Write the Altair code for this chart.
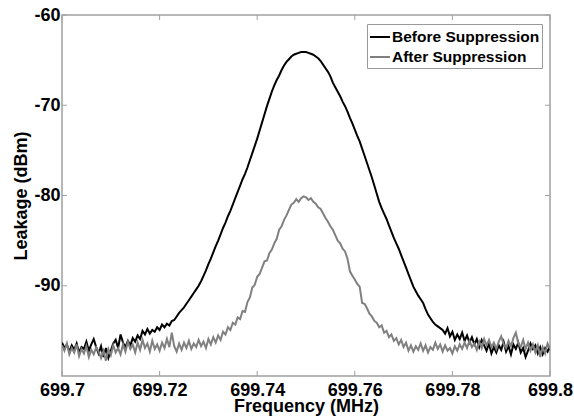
import altair as alt
import pandas as pd

# Frequency grid (MHz), 0.0005 MHz step from 699.7 to 699.8
freq = [round(699.7 + i * 0.0005, 4) for i in range(201)]

before = [
    -96.3, -96.9, -96.5, -97.3, -96.6, -97.1, -96.4, -97.4, -96.8, -97.0,
    -96.2, -97.2, -96.5, -95.9, -96.8, -97.5, -96.7, -97.9, -96.9, -98.0,
    -97.2, -96.4, -96.0, -96.9, -95.4, -96.3, -96.8, -96.1, -96.6, -95.8,
    -96.2, -95.5, -95.9, -95.0, -95.4, -94.8, -95.3, -94.9, -95.1, -94.6,
    -94.9, -94.3, -94.6, -94.2, -94.4, -93.9, -93.8, -93.4, -93.0, -92.7,
    -92.4, -92.0, -91.6, -91.2, -90.8, -90.4, -90.0, -89.5, -88.9, -88.3,
    -87.6, -87.0, -86.3, -85.6, -85.0, -84.3, -83.6, -83.0, -82.3, -81.7,
    -81.0, -80.3, -79.6, -78.9, -78.2, -77.6, -76.9, -76.1, -75.3, -74.5,
    -73.7, -72.8, -71.9, -71.0, -70.1, -69.3, -68.5, -67.8, -67.2, -66.7,
    -66.1, -65.6, -65.2, -64.9, -64.6, -64.4, -64.3, -64.2, -64.1, -64.1,
    -64.1, -64.2, -64.3, -64.4, -64.6, -64.8, -65.1, -65.5, -65.9, -66.3,
    -66.8, -67.5, -68.0, -68.5, -69.0, -69.6, -70.1, -70.7, -71.4, -72.0,
    -72.7, -73.4, -74.0, -74.8, -75.6, -76.4, -77.2, -78.0, -78.9, -79.8,
    -80.7, -81.4, -82.0, -82.6, -83.3, -84.0, -84.7, -85.3, -85.9, -86.6,
    -87.3, -88.0, -88.7, -89.4, -90.1, -90.6, -91.1, -91.5, -91.9, -92.6,
    -93.2, -93.6, -94.0, -94.3, -94.5, -94.7, -94.9, -95.3, -94.7, -95.6,
    -95.1, -96.0, -95.4, -95.9, -95.2, -96.1, -95.5, -96.3, -95.7, -96.5,
    -95.9, -96.8, -96.0, -96.6, -97.2, -96.4, -97.5, -96.8, -97.4, -96.6,
    -97.1, -96.2, -97.3, -96.7, -97.6, -96.5, -97.0, -96.3, -97.4, -96.9,
    -97.9, -97.2, -96.4, -97.0, -96.6, -97.5, -96.8, -97.6, -96.9, -97.3,
    -96.7,
]

after = [
    -96.6, -97.2, -96.4, -97.6, -96.9, -97.4, -96.5, -97.8, -97.0, -97.5,
    -96.7, -97.9, -97.1, -97.6, -96.8, -97.3, -98.0, -97.2, -98.3, -97.0,
    -97.7, -96.6, -97.4, -96.9, -97.6, -96.5, -97.3, -96.2, -97.0, -96.5,
    -97.4, -96.3, -97.1, -96.0, -96.9, -96.4, -97.3, -96.1, -97.0, -96.5,
    -97.2, -96.3, -96.9, -95.9, -96.8, -95.2, -96.7, -97.3, -96.4, -97.1,
    -96.3, -96.9, -96.1, -97.0, -96.4, -96.8, -96.0, -96.7, -96.2, -96.9,
    -95.9, -96.5, -95.7, -96.3, -95.5, -96.0, -95.1, -95.4, -94.6, -94.9,
    -94.1, -94.3, -93.5, -93.7, -92.8, -92.9, -91.8, -91.3, -90.2, -89.9,
    -89.0, -88.7, -88.0, -87.3, -87.2, -86.4, -86.0, -85.3, -84.8, -83.8,
    -83.4, -82.7, -82.2, -81.6, -81.0, -80.8, -80.4, -80.7, -80.3, -80.1,
    -80.2, -80.5, -80.3, -80.7, -80.9, -81.3, -81.5, -82.0, -82.5, -82.9,
    -83.4, -83.8, -84.4, -85.0, -85.3, -85.9, -86.2, -87.0, -88.4, -88.9,
    -89.3, -89.8, -90.1, -91.9, -92.0, -92.5, -93.1, -93.4, -93.9, -94.1,
    -94.6, -94.4, -95.2, -95.0, -95.7, -95.4, -96.1, -95.8, -96.5, -96.0,
    -96.8, -96.3, -97.2, -96.6, -97.3, -96.7, -97.1, -96.4, -97.2, -96.6,
    -97.4, -96.8, -97.1, -96.3, -97.0, -96.5, -97.3, -96.6, -97.2, -96.9,
    -97.5, -96.7, -97.2, -96.5, -97.0, -96.3, -96.9, -96.1, -96.8, -96.4,
    -97.1, -96.2, -96.9, -95.9, -96.6, -96.0, -96.8, -96.3, -97.0, -96.2,
    -95.6, -96.5, -96.9, -96.1, -96.7, -95.8, -95.2, -96.4, -96.8, -96.0,
    -97.0, -96.3, -97.2, -96.5, -97.4, -96.6, -97.9, -96.8, -97.5, -96.4,
    -97.0,
]

series_names = ["Before Suppression", "After Suppression"]
series_colors = ["#000000", "#808080"]
x_ticks = [699.7, 699.72, 699.74, 699.76, 699.78, 699.8]
y_ticks = [-90, -80, -70, -60]
x_domain = [699.7, 699.8]
y_domain = [-100, -60]

rows = []
for f, v in zip(freq, before):
    rows.append({"freq": f, "dbm": v, "series": series_names[0]})
for f, v in zip(freq, after):
    rows.append({"freq": f, "dbm": v, "series": series_names[1]})
df = pd.DataFrame(rows)

W, H = 488, 361
FONT = "Liberation Sans"
FRAME = "#a0a0a0"

xscale = alt.Scale(domain=x_domain, nice=False, zero=False)
yscale = alt.Scale(domain=y_domain, nice=False, zero=False)

lines = alt.Chart(df).mark_line(strokeWidth=2, clip=True).encode(
    x=alt.X("freq:Q", scale=xscale,
            axis=alt.Axis(values=x_ticks, labelExpr="'' + datum.value",
                          title="Frequency (MHz)",
                          ticks=False, domain=False, grid=False,
                          labelFont=FONT, labelFontSize=18, labelFontWeight="bold",
                          labelColor="#000", labelPadding=5, labelFlush=False,
                          titleFont=FONT, titleFontSize=18, titleFontWeight="bold",
                          titleColor="#000", titlePadding=-2)),
    y=alt.Y("dbm:Q", scale=yscale,
            axis=alt.Axis(values=y_ticks, labelExpr="'' + datum.value",
                          title="Leakage (dBm)",
                          ticks=False, domain=False, grid=False,
                          labelFont=FONT, labelFontSize=18, labelFontWeight="bold",
                          labelColor="#000", labelPadding=2, labelFlush=False,
                          titleFont=FONT, titleFontSize=18, titleFontWeight="bold",
                          titleColor="#000", titlePadding=3)),
    color=alt.Color("series:N",
                    scale=alt.Scale(domain=series_names, range=series_colors),
                    legend=alt.Legend(title=None, orient="none", legendX=305, legendY=9,
                                      symbolType="stroke", symbolSize=400,
                                      symbolStrokeWidth=2, labelOffset=1,
                                      labelFont=FONT, labelFontSize=15.5,
                                      labelFontWeight="bold", labelColor="#000",
                                      strokeColor="#999999", fillColor="#ffffff",
                                      padding=2, rowPadding=0)),
    order=alt.Order("series_order:Q"),
).transform_calculate(
    series_order="datum.series == 'Before Suppression' ? 0 : 1"
)

xt = pd.DataFrame({"t": x_ticks})
yt = pd.DataFrame({"t": y_ticks})

bottom_ticks = alt.Chart(xt).mark_rule(color=FRAME, strokeWidth=1).encode(
    x=alt.X("t:Q", scale=xscale), y=alt.value(H), y2=alt.value(H - 5))
top_ticks = alt.Chart(xt).mark_rule(color=FRAME, strokeWidth=1).encode(
    x=alt.X("t:Q", scale=xscale), y=alt.value(0), y2=alt.value(5))
left_ticks = alt.Chart(yt).mark_rule(color=FRAME, strokeWidth=1).encode(
    y=alt.Y("t:Q", scale=yscale), x=alt.value(0), x2=alt.value(5))
right_ticks = alt.Chart(yt).mark_rule(color=FRAME, strokeWidth=1).encode(
    y=alt.Y("t:Q", scale=yscale), x=alt.value(W), x2=alt.value(W - 5))

chart = alt.layer(bottom_ticks, top_ticks, left_ticks, right_ticks, lines).properties(
    width=W, height=H,
    autosize=alt.AutoSizeParams(type="none"),
    padding={"left": 62, "top": 15, "right": 24, "bottom": 42},
    background="#ffffff",
).configure_view(stroke=FRAME, strokeWidth=1.5)

chart.save("out.html", embed_options={"renderer": "svg", "actions": False})
